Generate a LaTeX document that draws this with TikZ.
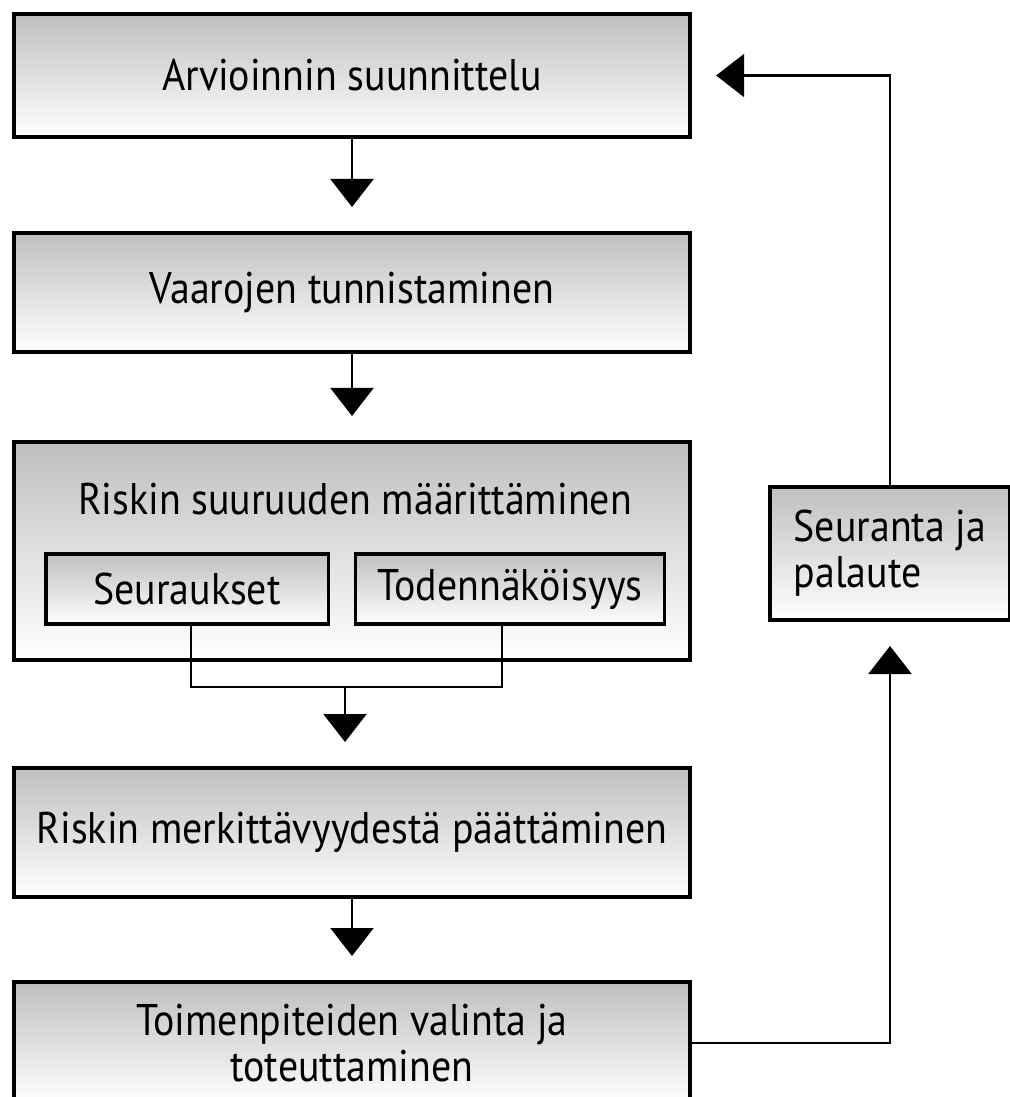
\documentclass[tikz,border=0pt]{standalone}
\usepackage{fontspec}
\setmainfont{PT Sans}[FakeStretch=0.9]
\usetikzlibrary{arrows.meta,positioning,calc}

\begin{document}
\begin{tikzpicture}[
  x=0.01cm, y=-0.01cm,
  font=\fontsize{12.6}{13}\selectfont,
  box/.style={draw, line width=1.1pt, top color=black!25, bottom color=white, minimum width=6.76cm, align=center, inner sep=0pt},
  subbox/.style={draw, line width=0.9pt, top color=black!25, bottom color=white, minimum height=0.7cm, align=center, inner sep=0pt},
  arr/.style={-{Triangle[width=4.3mm,length=2.8mm]}, line width=0.6pt, shorten >=0.24cm},
  link/.style={line width=0.6pt}
]
\useasboundingbox (0,0) rectangle (1010,1097);
\clip (0,0) rectangle (1010,1097);

\node[box, minimum height=1.23cm] (plan) at (352,75.5) {Arvioinnin suunnittelu};
\node[box, minimum height=1.19cm] (hazard) at (352,292.5) {Vaarojen tunnistaminen};
\node[box, minimum height=2.18cm] (risk) at (352,551) {};
\node (risktitle) at (355,499) {Riskin suuruuden määrittäminen};
\node[subbox, minimum width=2.82cm] (conseq) at (187,589) {Seuraukset};
\node[subbox, minimum width=3.08cm] (prob) at (510,589) {Todennäköisyys};
\node[box, minimum height=1.29cm] (decide) at (352,832.5) {Riskin merkittävyydestä päättäminen};
\node[box, minimum height=1.22cm] (act) at (352,1043) {Toimenpiteiden valinta ja\\toteuttaminen};
\node[box, minimum width=2.4cm, minimum height=1.33cm, align=left] (follow) at (890,553.5) {Seuranta ja\\palaute};

\coordinate (join) at (345,687);

\draw[arr] (plan) -- (hazard);
\draw[arr] (hazard) -- (risk);
\draw[link] ([xshift=0.04cm]conseq.south) |- (join) -| ([xshift=-0.08cm]prob.south);
\draw[arr] (join) -- (join |- decide.north);
\draw[arr] (decide) -- (act);
\draw[arr] (act.east) -| (follow.south);
\draw[arr] (follow.north) |- (plan.east);
\end{tikzpicture}
\end{document}
